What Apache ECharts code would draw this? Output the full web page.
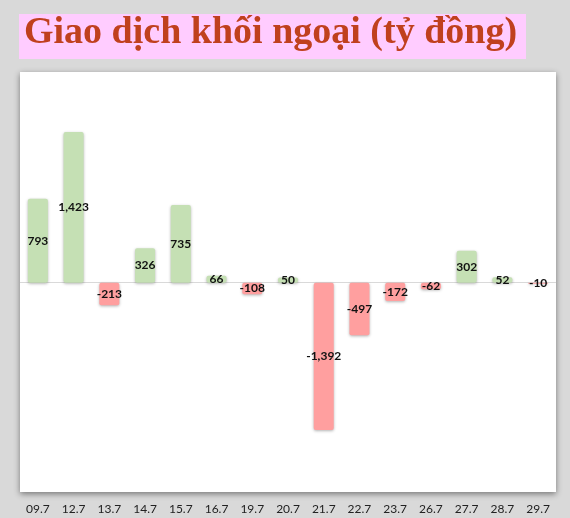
<!DOCTYPE html>
<html>
<head>
<meta charset="utf-8">
<title>Giao dịch khối ngoại</title>
<script src="https://cdn.jsdelivr.net/npm/echarts@6/dist/echarts.min.js"></script>
<style>
  * { margin: 0; padding: 0; }
  body { background: #d9d9d9; }
  #main { width: 570px; height: 518px; }
</style>
</head>
<body>
<div id="main"></div>
<script>
// du lieu
var days = ['09.7', '12.7', '13.7', '14.7', '15.7', '16.7', '19.7', '20.7', '21.7', '22.7', '23.7', '26.7', '27.7', '28.7', '29.7'];
var netValues = [793, 1423, -213, 326, 735, 66, -108, 50, -1392, -497, -172, -62, 302, 52, -10];
var titleText = 'Giao dịch khối ngoại (tỷ đồng)';

var chart = echarts.init(document.getElementById('main'));

var option = {
  backgroundColor: '#d9d9d9',
  animation: false,
  graphic: [
    {
      type: 'rect', z: 0,
      shape: { x: 19, y: 14, width: 507, height: 45 },
      style: { fill: '#ffccff' }
    },
    {
      type: 'text', z: 1,
      left: 24, top: 14,
      style: {
        text: titleText,
        font: 'bold 38px "Liberation Serif", "Times New Roman", serif',
        fill: '#c0401e'
      }
    },
    {
      type: 'rect', z: 0,
      shape: { x: 20, y: 72, width: 536, height: 420 },
      style: { fill: '#ffffff', shadowBlur: 6, shadowOffsetY: 2, shadowColor: 'rgba(0,0,0,0.45)' }
    }
  ],
  grid: { left: 20, right: 14, top: 102.7, bottom: 50 },
  xAxis: {
    type: 'category',
    data: days,
    axisLine: { show: false, onZero: false },
    axisTick: { show: false },
    axisLabel: {
      margin: 35,
      fontSize: 12,
      color: '#222',
      fontFamily: 'Lato, "Open Sans", sans-serif'
    }
  },
  yAxis: {
    type: 'value',
    min: -1750,
    max: 1700,
    show: false,
    splitLine: { show: false }
  },
  series: [{
    type: 'bar',
    data: netValues,
    barWidth: '56%',
    z: 3,
    itemStyle: {
      borderRadius: 2,
      shadowBlur: 3,
      shadowOffsetY: 1,
      shadowColor: 'rgba(0,0,0,0.3)',
      color: function (p) { return p.value >= 0 ? '#c5e0b4' : '#ff9f9f'; }
    },
    label: {
      show: true,
      position: 'inside',
      fontSize: 12,
      fontWeight: 'bold',
      color: '#111',
      fontFamily: 'Lato, "Open Sans", sans-serif',
      formatter: function (p) { return p.value.toLocaleString('en-US'); }
    },
    markLine: {
      silent: true,
      symbol: 'none',
      label: { show: false },
      lineStyle: { color: '#d9d9d9', width: 1, type: 'solid' },
      data: [{ yAxis: 0 }],
      z: 2
    }
  }]
};

chart.setOption(option);
</script>
</body>
</html>
